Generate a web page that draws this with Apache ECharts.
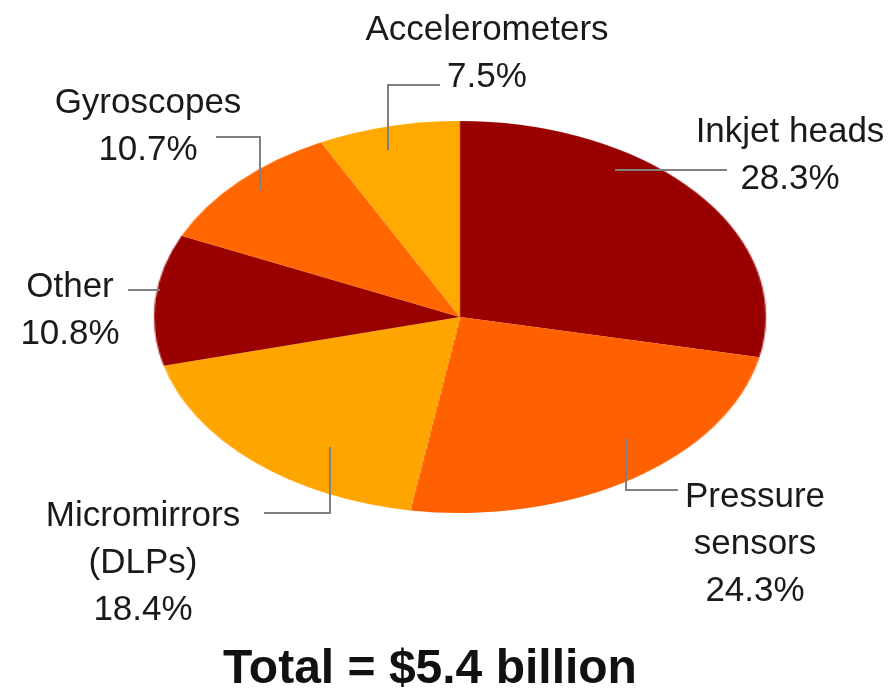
<!DOCTYPE html>
<html>
<head>
<meta charset="utf-8">
<script src="https://cdn.jsdelivr.net/npm/echarts@6/dist/echarts.min.js"></script>
<style>
html,body{margin:0;padding:0;background:#fff;}
#wrap{position:relative;width:893px;height:688px;overflow:hidden;background:#fff;}
#pie{position:absolute;left:260px;top:117px;width:400px;height:400px;transform:scaleX(1.561);transform-origin:50% 50%;}
#over{position:absolute;left:0;top:0;width:893px;height:688px;}
</style>
</head>
<body>
<div id="wrap"><div id="pie"></div><div id="over"></div></div>
<script>
// Data
const categories = ['Inkjet heads', 'Pressure\nsensors', 'Micromirrors\n(DLPs)', 'Other', 'Gyroscopes', 'Accelerometers'];
const shares = [28.3, 24.3, 18.4, 10.8, 10.7, 7.5];
const sliceColors = ['#990000', '#FF6000', '#FFA500', '#990000', '#FF6600', '#FFAA00'];
const totalLabel = 'Total = $5.4 billion';

// Layout of annotations (positions only)
const labelPos = [
  {x: 790, y: 153}, {x: 755, y: 541}, {x: 143, y: 560},
  {x: 70, y: 308}, {x: 148, y: 124}, {x: 487, y: 51}
];
const leaderLines = [
  [[615,170],[727,170]],
  [[626,438],[626,490],[678,490]],
  [[330,447],[330,513],[264,513]],
  [[128,290],[160,290]],
  [[260,190],[260,137],[216,137]],
  [[388,150],[388,85],[440,85]]
];

const pieChart = echarts.init(document.getElementById('pie'));
pieChart.setOption({
  animation: false,
  series: [{
    type: 'pie',
    center: ['50%', '50%'],
    radius: 196,
    startAngle: 90,
    clockwise: true,
    label: {show: false},
    labelLine: {show: false},
    itemStyle: {borderWidth: 0},
    data: categories.map((c, i) => ({name: c, value: shares[i], itemStyle: {color: sliceColors[i]}}))
  }]
});

const over = echarts.init(document.getElementById('over'), null, {renderer: 'svg'});
const graphics = [];
leaderLines.forEach(pts => {
  graphics.push({type: 'polyline', silent: true, shape: {points: pts}, style: {stroke: '#808080', lineWidth: 2, fill: null}});
});
categories.forEach((c, i) => {
  graphics.push({
    type: 'text', silent: true, x: labelPos[i].x, y: labelPos[i].y,
    style: {
      text: c + '\n' + shares[i].toFixed(1) + '%',
      fill: '#1a1a1a', font: '35px "Liberation Sans", Arial, sans-serif',
      align: 'center', verticalAlign: 'middle', lineHeight: 47
    }
  });
});
over.setOption({
  animation: false,
  title: {
    text: totalLabel, left: 425, top: 637, textAlign: 'center',
    textStyle: {fontSize: 48, fontWeight: 'bold', color: '#111', fontFamily: '"Liberation Sans", Arial, sans-serif'}
  },
  graphic: graphics
});
</script>
</body>
</html>
